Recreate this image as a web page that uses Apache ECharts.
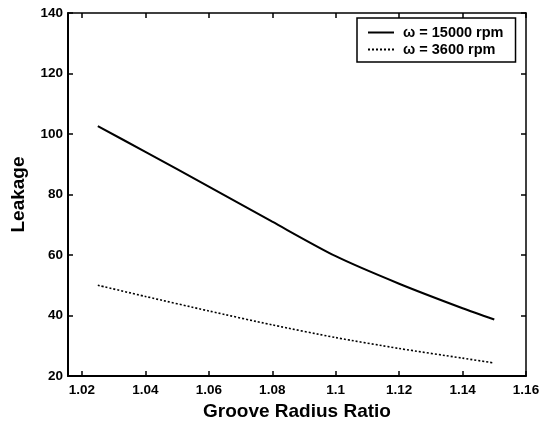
<!DOCTYPE html>
<html>
<head>
<meta charset="utf-8">
<script src="https://cdn.jsdelivr.net/npm/echarts@6/dist/echarts.min.js"></script>
<style>
    html, body { margin: 0; padding: 0; background: #fff; }
    #chart { width: 550px; height: 426px; }
</style>
</head>
<body>
<div id="chart"></div>
<script>
// values
var ratio = [1.025, 1.04, 1.06, 1.08, 1.1, 1.12, 1.14, 1.15];
var leak15000 = [102.6, 94.1, 82.6, 71.0, 59.6, 50.5, 42.4, 38.7];
var leak3600 = [50.0, 46.3, 41.5, 36.9, 32.7, 29.1, 25.9, 24.3];
var xTicks = [1.02, 1.04, 1.06, 1.08, 1.1, 1.12, 1.14, 1.16];
var seriesNames = ['\u03c9 = 15000 rpm', '\u03c9 = 3600 rpm'];

function pairs(xs, ys) {
    var out = [];
    for (var i = 0; i < xs.length; i++) {
        out.push([xs[i], ys[i]]);
    }
    return out;
}

var font = 'Liberation Sans, Arial, sans-serif';

var chart = echarts.init(document.getElementById('chart'));

var option = {
    animation: false,
    backgroundColor: '#fff',
    color: ['#000', '#000'],
    grid: {
        left: 68,
        top: 13,
        right: 24,
        bottom: 46
    },
    legend: {
        orient: 'vertical',
        left: 357,
        top: 18,
        padding: [7, 12, 5, 10],
        itemGap: 2,
        itemWidth: 26,
        itemHeight: 14,
        borderColor: '#000',
        borderWidth: 1.5,
        backgroundColor: '#fff',
        itemStyle: { opacity: 0 },
        data: seriesNames,
        textStyle: {
            fontFamily: font,
            fontSize: 14.5,
            fontWeight: 'bold',
            color: '#000',
            padding: [0, 0, 0, 4]
        }
    },
    xAxis: [{
        type: 'value',
        min: 1.0156,
        max: 1.16,
        name: 'Groove Radius Ratio',
        nameLocation: 'middle',
        nameGap: 26,
        nameTextStyle: {
            fontFamily: font,
            fontSize: 19,
            fontWeight: 'bold',
            color: '#000'
        },
        axisLine: { onZero: false, lineStyle: { color: '#000', width: 2 } },
        axisTick: { inside: true, length: 5, customValues: xTicks, lineStyle: { color: '#000', width: 1.5 } },
        axisLabel: {
            customValues: xTicks,
            fontFamily: font,
            fontSize: 13.5,
            fontWeight: 'bold',
            color: '#000',
            margin: 7,
            formatter: function (v) { return String(+v.toFixed(2)); }
        },
        splitLine: { show: false }
    }, {
        type: 'value',
        position: 'top',
        min: 1.0156,
        max: 1.16,
        axisLine: { onZero: false, lineStyle: { color: '#000', width: 1.5 } },
        axisTick: { inside: true, length: 5, customValues: xTicks, lineStyle: { color: '#000', width: 1.5 } },
        axisLabel: { show: false },
        splitLine: { show: false }
    }],
    yAxis: [{
        type: 'value',
        min: 20,
        max: 140,
        interval: 20,
        name: 'Leakage',
        nameLocation: 'middle',
        nameGap: 40,
        nameTextStyle: {
            fontFamily: font,
            fontSize: 19,
            fontWeight: 'bold',
            color: '#000'
        },
        axisLine: { onZero: false, lineStyle: { color: '#000', width: 2 } },
        axisTick: { inside: true, length: 5, lineStyle: { color: '#000', width: 1.5 } },
        axisLabel: {
            fontFamily: font,
            fontSize: 13.5,
            fontWeight: 'bold',
            color: '#000',
            margin: 5
        },
        splitLine: { show: false }
    }, {
        type: 'value',
        position: 'right',
        min: 20,
        max: 140,
        interval: 20,
        axisLine: { onZero: false, lineStyle: { color: '#000', width: 1.5 } },
        axisTick: { inside: true, length: 5, lineStyle: { color: '#000', width: 1.5 } },
        axisLabel: { show: false },
        splitLine: { show: false }
    }],
    series: [{
        name: seriesNames[0],
        type: 'line',
        smooth: 0.25,
        symbol: 'none',
        lineStyle: { color: '#000', width: 2, type: 'solid' },
        data: pairs(ratio, leak15000)
    }, {
        name: seriesNames[1],
        type: 'line',
        smooth: 0.25,
        symbol: 'none',
        lineStyle: { color: '#000', width: 1.6, type: [2, 2] },
        data: pairs(ratio, leak3600)
    }]
};

chart.setOption(option);
</script>
</body>
</html>
